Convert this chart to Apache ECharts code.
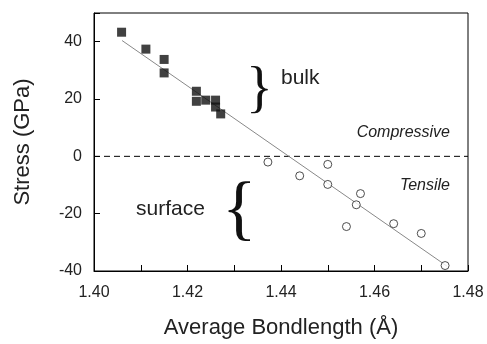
<!DOCTYPE html>
<html>
<head>
<meta charset="utf-8">
<script src="https://cdn.jsdelivr.net/npm/echarts@6/dist/echarts.min.js"></script>
<style>
  html, body { margin: 0; padding: 0; background: #fff; }
  #chart { width: 487px; height: 344px; }
</style>
</head>
<body>
<div id="chart"></div>
<script>
// bulk atoms (filled squares)
const bulkX = [1.4059, 1.4111, 1.4150, 1.4150, 1.4219, 1.4219, 1.4239, 1.4260, 1.4260, 1.4271];
const bulkY = [43.3, 37.4, 33.8, 29.1, 22.7, 19.2, 19.6, 19.6, 17.2, 14.8];
// surface atoms (open circles)
const surfX = [1.4372, 1.4440, 1.4500, 1.4500, 1.4570, 1.4561, 1.4540, 1.4641, 1.4700, 1.4751];
const surfY = [-2.0, -6.8, -2.8, -9.8, -13.0, -16.9, -24.5, -23.5, -26.9, -38.1];
// linear fit end points
const fitX = [1.406, 1.4755];
const fitY = [40.4, -38.3];
// zero-stress reference line
const zeroX = [1.40, 1.48];
const zeroY = [0, 0];

const pairs = (xs, ys) => xs.map((x, i) => [x, ys[i]]);
const txt = '#222';
const font = 'Liberation Sans, Arial, sans-serif';

const chart = echarts.init(document.getElementById('chart'));
const option = {
    animation: false,
    grid: {
        left: 94, right: 19, top: 13, bottom: 67,
        show: true, borderColor: '#000', borderWidth: 1
    },
    xAxis: {
        type: 'value',
        min: 1.40, max: 1.48, interval: 0.01,
        name: 'Average Bondlength (Å)',
        nameLocation: 'middle', nameGap: 46,
        nameTextStyle: { fontFamily: font, fontSize: 22, color: txt },
        axisLine: { onZero: false, lineStyle: { color: '#000' } },
        axisTick: { inside: true, length: 6, lineStyle: { color: '#000' } },
        axisLabel: {
            margin: 14, fontFamily: font, fontSize: 16, color: txt,
            formatter: v => (Math.round(v * 100) % 2 === 0 ? v.toFixed(2) : '')
        },
        splitLine: { show: false }
    },
    yAxis: {
        type: 'value',
        min: -40, max: 50, interval: 20,
        name: 'Stress (GPa)',
        nameLocation: 'middle', nameGap: 60,
        nameTextStyle: { fontFamily: font, fontSize: 22, color: txt },
        axisLine: { onZero: false, lineStyle: { color: '#000' } },
        axisTick: { inside: true, length: 6, lineStyle: { color: '#000' } },
        axisLabel: {
            margin: 12, fontFamily: font, fontSize: 16, color: txt,
            formatter: v => (v > 40 ? '' : String(v))
        },
        splitLine: { show: false }
    },
    series: [
        {
            type: 'line',
            data: pairs(zeroX, zeroY),
            symbol: 'none',
            lineStyle: { color: '#000', width: 1, type: [6, 4] },
            z: 1
        },
        {
            type: 'line',
            data: pairs(fitX, fitY),
            symbol: 'none',
            lineStyle: { color: '#888', width: 1 },
            z: 2
        },
        {
            type: 'scatter',
            data: pairs(bulkX, bulkY),
            symbol: 'rect',
            symbolSize: 9,
            itemStyle: { color: '#111' },
            z: 3
        },
        {
            type: 'scatter',
            data: pairs(surfX, surfY),
            symbol: 'circle',
            symbolSize: 8,
            itemStyle: { color: '#fff', borderColor: '#222', borderWidth: 1 },
            z: 3
        }
    ],
    graphic: [
        { type: 'text', left: 246, top: 63, style: { text: '}', font: '56px Liberation Serif', fill: '#111' } },
        { type: 'text', left: 281, top: 68, style: { text: 'bulk', font: '21px Liberation Sans', fill: txt } },
        { type: 'text', left: 136, top: 199, style: { text: 'surface', font: '21px Liberation Sans', fill: txt } },
        { type: 'text', left: 222, top: 176, style: { text: '{', font: '72px Liberation Serif', fill: '#111' } },
        { type: 'text', right: 37, top: 125, style: { text: 'Compressive', font: 'italic 16px Liberation Sans', fill: txt } },
        { type: 'text', right: 37, top: 178, style: { text: 'Tensile', font: 'italic 16px Liberation Sans', fill: txt } }
    ]
};
chart.setOption(option);
</script>
</body>
</html>
